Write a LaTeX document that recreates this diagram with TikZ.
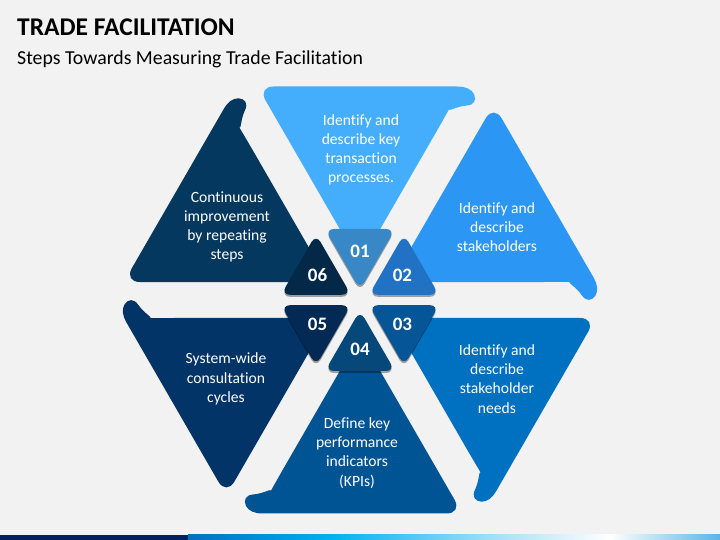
\documentclass[tikz,border=0pt]{standalone}
\usepackage{fontspec}
\setmainfont{Carlito}[Ligatures=NoCommon]
\usetikzlibrary{shadows}
\definecolor{bg}{RGB}{242,242,242}
\definecolor{bA}{RGB}{69,174,252}
\definecolor{bB}{RGB}{43,150,243}
\definecolor{bC}{RGB}{0,112,192}
\definecolor{bD}{RGB}{0,84,147}
\definecolor{bE}{RGB}{3,52,104}
\definecolor{bF}{RGB}{4,56,94}
\definecolor{sA}{RGB}{56,136,200}
\definecolor{sB}{RGB}{33,114,196}
\definecolor{sC}{RGB}{6,85,150}
\definecolor{sD}{RGB}{7,72,122}
\definecolor{sE}{RGB}{3,42,84}
\definecolor{sF}{RGB}{3,40,72}
\definecolor{navy}{RGB}{0,32,96}
\definecolor{g1}{RGB}{0,112,192}
\definecolor{g2}{RGB}{0,176,240}
\definecolor{g3}{RGB}{170,225,248}
\definecolor{g4}{RGB}{90,180,230}
\newcommand\BigTri[2]{%
  \fill[#2, rotate=#1] (82,178) .. controls (87,187) and (95,193.5) .. (107,194.5)
    .. controls (114,195) and (117,200) .. (114,206)
    .. controls (111,211) and (106,213.5) .. (97,213.5)
    [rounded corners=16pt] -- (-102.5,213.5) -- (0,36) -- cycle;}
\newcommand\SmallTri[2]{%
  \fill[#2, rotate=#1, rounded corners=9pt,
    drop shadow={shadow xshift=0pt, shadow yshift=-2pt, opacity=0.35, fill=black}]
    (-35,71) -- (35,71) -- (0,10.4) -- cycle;}
\tikzset{
  txt/.style={text=white, align=center, font=\fontsize{15.6}{19.2}\selectfont},
  num/.style={text=white, font=\fontsize{19}{22}\selectfont\bfseries}
}
\begin{document}
\begin{tikzpicture}[x=1pt,y=1pt]
\useasboundingbox (-360,-240) rectangle (360,300);
\fill[bg] (-360,-240) rectangle (360,300);
% bottom bar
\fill[navy] (-360,-240) rectangle (-172,-235);
\shade[left color=g1, right color=g2] (-172,-240) rectangle (-30,-235);
\shade[left color=g2, right color=g3] (-30.2,-240) rectangle (140,-235);
\shade[left color=g3, right color=white] (139.8,-240) rectangle (250,-235);
\shade[left color=white, right color=g4] (249.8,-240) rectangle (360,-235);
% title
\node[anchor=base west, inner sep=0pt, font=\fontsize{25.5}{28}\selectfont\bfseries] (title) at (-343,264) {TRADE FACILITATION};
\node[anchor=base west, inner sep=0pt, font=\fontsize{19.8}{22}\selectfont] (subtitle) at (-343,235) {Steps Towards Measuring Trade Facilitation};
% big triangles
\BigTri{0}{bA}
\BigTri{-60}{bB}
\BigTri{-120}{bC}
\BigTri{-180}{bD}
\BigTri{-240}{bE}
\BigTri{-300}{bF}
% small triangles
\SmallTri{0}{sA}
\SmallTri{-60}{sB}
\SmallTri{-120}{sC}
\SmallTri{-180}{sD}
\SmallTri{-240}{sE}
\SmallTri{-300}{sF}
% numbers
\node[num] (n1) at (90:49) {01};
\node[num] (n2) at (30:49) {02};
\node[num] (n3) at (-30:49) {03};
\node[num] (n4) at (-90:49) {04};
\node[num] (n5) at (210:49) {05};
\node[num] (n6) at (150:49) {06};
% texts
\node[txt] (t1) at (1,150) {Identify and\\describe key\\transaction\\processes.};
\node[txt] (t2) at (137,73) {Identify and\\describe\\stakeholders};
\node[txt] (t3) at (137,-79) {Identify and\\describe\\stakeholder\\needs};
\node[txt] (t4) at (-3,-153) {Define key\\performance\\indicators\\(KPIs)};
\node[txt] (t5) at (-134,-79) {System-wide\\consultation\\cycles};
\node[txt] (t6) at (-133,73) {Continuous\\improvement\\by repeating\\steps};
\end{tikzpicture}
\end{document}
